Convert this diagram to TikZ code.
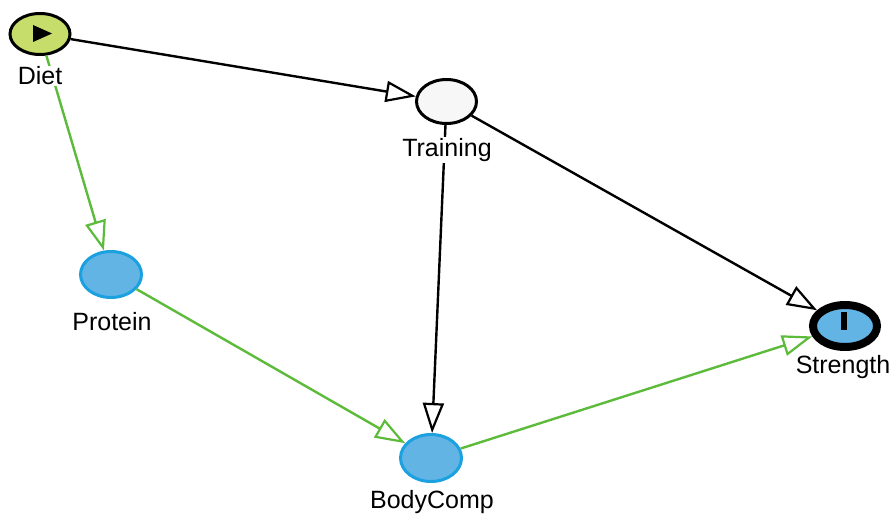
\documentclass[tikz,border=0pt]{standalone}
\usepackage{fontspec}
\setmainfont{Liberation Sans}
\usetikzlibrary{arrows.meta,shapes.geometric}
\definecolor{expfill}{HTML}{C6DC6B}
\definecolor{outfill}{HTML}{62B4E5}
\definecolor{outline}{HTML}{1BA0E0}
\definecolor{latfill}{HTML}{F7F7F7}
\definecolor{causal}{HTML}{5DBB3B}
\begin{document}
\begin{tikzpicture}[x=1pt,y=-1pt,
  var/.style={ellipse,draw=black,line width=3pt,inner sep=0pt},
  vlabel/.style={fill=white,inner sep=1pt,font=\fontsize{25}{28}\selectfont},
  edge/.style={line width=2.4pt,-{Triangle[open,length=30pt,width=21pt,line width=2.2pt]}},
  blackedge/.style={edge,draw=black},
  greenedge/.style={edge,draw=causal}]
\useasboundingbox (0,0) rectangle (892,519);
% variables
\node[var,fill=expfill,minimum width=60pt,minimum height=41pt] (diet) at (40,34) {};
\node[var,fill=latfill,minimum width=60pt,minimum height=44pt] (train) at (446.5,101.5) {};
\node[var,fill=outfill,draw=outline,minimum width=61pt,minimum height=46pt] (prot) at (111,274.5) {};
\node[var,fill=outfill,draw=outline,minimum width=61pt,minimum height=47pt] (body) at (431,458) {};
\node[var,fill=outfill,line width=8pt,minimum width=64pt,minimum height=42pt] (str) at (845,326) {};
% exposure and outcome markers
\fill[black] (33,25) -- (33,42) -- (52,33.5) -- cycle;
\fill[black] (841,312) rectangle (847,330);
% arrows
\draw[blackedge] (diet) -- (train);
\draw[greenedge] (diet) -- (prot);
\draw[blackedge] (train) -- (body);
\draw[blackedge] (train) -- (str);
\draw[greenedge] (prot) -- (body);
\draw[greenedge] (body) -- (str);
% labels
\node[vlabel] (ldiet) at (40,76) {Diet};
\node[vlabel] (ltrain) at (447,150) {Training};
\node[vlabel] (lprot) at (112,322) {Protein};
\node[vlabel] (lbody) at (432,502) {BodyComp};
\node[vlabel] (lstr) at (843,367) {Strength};
\end{tikzpicture}
\end{document}
